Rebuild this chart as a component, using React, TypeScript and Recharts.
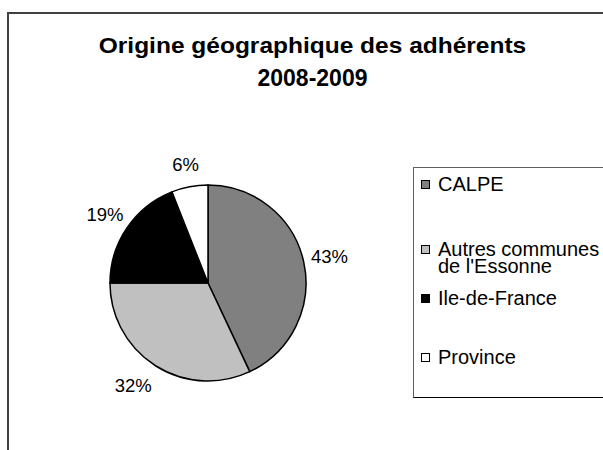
import React from 'react';
import { PieChart, Pie, Cell, Legend } from 'recharts';

const categories = ['CALPE', "Autres communes\nde l'Essonne", 'Ile-de-France', 'Province'];
const percentages = [43, 32, 19, 6];
const sliceColors = ['#808080', '#C0C0C0', '#000000', '#FFFFFF'];
const titleLines = ['Origine géographique des adhérents', '2008-2009'];

const data = categories.map((name, i) => ({ name, value: percentages[i] }));

const FONT = '"Liberation Sans", Arial, Helvetica, sans-serif';
const RAD = Math.PI / 180;
const LABEL_FS = 18.5;

const renderLabel = (props: any) => {
  const { cx, cy, midAngle, outerRadius, value } = props;
  const c = Math.cos(midAngle * RAD);
  const s = Math.sin(midAngle * RAD);
  const px = cx + (outerRadius + 8) * c;
  const py = cy - (outerRadius + 16) * s;
  const txt = `${value}%`;
  const w = (String(value).length * 0.556 + 0.889) * LABEL_FS;
  const h = 14;
  const x = px + (c * w) / 2 + (c < -0.3 && s < 0 ? -8 : 0);
  const y = py - (s * h) / 2;
  return (
    <text
      x={x}
      y={y}
      textAnchor="middle"
      dominantBaseline="central"
      fontFamily={FONT}
      fontSize={LABEL_FS}
      fill="#000"
    >
      {txt}
    </text>
  );
};

// vertical centre (px, inside legend box) of the first text line of each row
const legendRowCentres = [17, 82, 131, 190];

const LegendBox = () => (
  <div
    style={{
      position: 'relative',
      width: 200,
      height: 231,
      borderTop: '1px solid #606060',
      borderLeft: '1px solid #606060',
      borderBottom: '1px solid #000',
      boxSizing: 'border-box',
      background: '#fff',
      fontFamily: FONT,
      fontSize: 20,
      color: '#000',
    }}
  >
    {data.map((d, i) => (
      <div key={d.name} style={{ position: 'absolute', left: 0, top: legendRowCentres[i] - 9.5, width: 200 }}>
        <div
          style={{
            position: 'absolute',
            left: 7,
            top: 4,
            width: 9,
            height: 9,
            boxSizing: 'border-box',
            border: '1px solid #000',
            background: sliceColors[i],
          }}
        />
        <div style={{ position: 'absolute', left: 24, top: 0, lineHeight: '17px', whiteSpace: 'pre' }}>{d.name}</div>
      </div>
    ))}
  </div>
);

export default function App() {
  return (
    <div style={{ position: 'relative', width: 603, height: 450, overflow: 'hidden', background: '#fff' }}>
      <style>{'html,body{margin:0;overflow:hidden;background:#fff}'}</style>
      <div
        style={{
          position: 'absolute',
          left: 7,
          top: 12,
          width: 700,
          height: 600,
          border: '2px solid #404040',
          boxSizing: 'border-box',
        }}
      />
      <PieChart width={603} height={450} margin={{ top: 0, right: 0, bottom: 0, left: 0 }}>
        <Pie
          data={data}
          dataKey="value"
          nameKey="name"
          cx={208}
          cy={283}
          outerRadius={98}
          startAngle={90}
          endAngle={-270}
          stroke="#000"
          strokeWidth={1.5}
          label={renderLabel}
          labelLine={false}
          isAnimationActive={false}
        >
          {data.map((d, i) => (
            <Cell key={d.name} fill={sliceColors[i]} stroke="#000" />
          ))}
        </Pie>
        <Legend
          layout="vertical"
          align="right"
          verticalAlign="top"
          content={() => <LegendBox />}
          wrapperStyle={{ left: 413, top: 167, width: 200, height: 231 }}
        />
      </PieChart>
      {titleLines.map((line, i) => (
        <div
          key={line}
          style={{
            position: 'absolute',
            left: 12.5,
            width: 600,
            top: i === 0 ? 33 : 66.5,
            textAlign: 'center',
            fontFamily: FONT,
            fontWeight: 'bold',
            fontSize: i === 0 ? 24.5 : 23,
            lineHeight: i === 0 ? '24.5px' : '23px',
            transform: i === 0 ? 'scaleY(0.93)' : 'none',
            transformOrigin: '50% 80%',
            color: '#000',
            whiteSpace: 'nowrap',
          }}
        >
          {line}
        </div>
      ))}
    </div>
  );
}
